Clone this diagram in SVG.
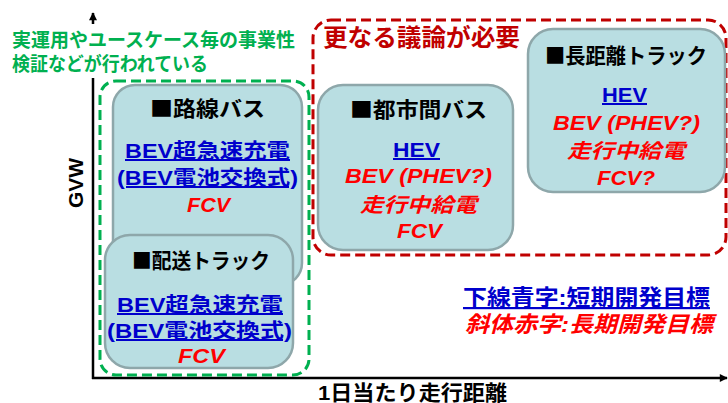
<svg xmlns="http://www.w3.org/2000/svg" width="728" height="403" viewBox="0 0 728 403">
<style>
text{font-family:"Liberation Sans","Noto Sans CJK JP",sans-serif;font-weight:bold;}
.sq{font-family:"Noto Sans CJK JP",sans-serif;}
.box{fill:#B9DEE2;stroke:#8EA7AA;stroke-width:2.5;}
.ttl{font-size:21px;fill:#000;}
.blu{font-size:20px;fill:#0000CC;text-decoration:underline;}
.red{font-size:20px;fill:#FF0000;font-style:italic;}
.axis{stroke:#000;stroke-width:2.5;fill:none;}
</style>
<defs>
<marker id="ah" viewBox="0 0 10 10" refX="9" refY="5" markerWidth="10" markerHeight="8" markerUnits="userSpaceOnUse" orient="auto">
<path d="M0,0 L10,5 L0,10 z" fill="#000"/>
</marker>
</defs>
<g id="connectors">
<line class="axis" x1="93" y1="379" x2="93" y2="13" marker-end="url(#ah)"/>
<line class="axis" x1="92" y1="378" x2="727" y2="378" marker-end="url(#ah)"/>
</g>
<g id="axis-labels">
<text x="83" y="183" font-size="21" text-anchor="middle" transform="rotate(-90 83 183)">GVW</text>
<text x="318" y="400" font-size="21" textLength="189" lengthAdjust="spacingAndGlyphs">1日当たり走行距離</text>
</g>
<g id="green-group">
<rect x="5" y="24" width="300" height="54" fill="#fff"/>
<text x="12" y="47" font-size="19" fill="#00B050" textLength="283" lengthAdjust="spacingAndGlyphs">実運用やユースケース毎の事業性</text>
<text x="12" y="71" font-size="19" fill="#00B050" textLength="196" lengthAdjust="spacingAndGlyphs">検証などが行われている</text>
<rect x="100" y="81" width="209" height="294" rx="16" fill="none" stroke="#00B050" stroke-width="3" stroke-dasharray="10 5"/>
</g>
<g id="red-group">
<rect x="313" y="20" width="413" height="235" rx="18" fill="none" stroke="#C00000" stroke-width="3" stroke-dasharray="10 5"/>
<text x="323" y="46" font-size="24" fill="#C00000" textLength="197" lengthAdjust="spacingAndGlyphs">更なる議論が必要</text>
</g>
<g id="route-bus">
<rect class="box" x="113" y="85" width="189" height="200" rx="22"/>
<text class="ttl" x="150" y="116" textLength="115" lengthAdjust="spacingAndGlyphs"><tspan class="sq">■</tspan>路線バス</text>
<text class="blu" x="125" y="158" textLength="165" lengthAdjust="spacingAndGlyphs">BEV超急速充電</text>
<text class="blu" x="117" y="185" textLength="181" lengthAdjust="spacingAndGlyphs">(BEV電池交換式)</text>
<text class="red" x="187" y="212" textLength="43" lengthAdjust="spacingAndGlyphs">FCV</text>
</g>
<g id="delivery-truck">
<rect class="box" x="105" y="235" width="188" height="133" rx="25"/>
<text class="ttl" x="132" y="268" textLength="138" lengthAdjust="spacingAndGlyphs"><tspan class="sq">■</tspan>配送トラック</text>
<text class="blu" x="117" y="312" textLength="166" lengthAdjust="spacingAndGlyphs">BEV超急速充電</text>
<text class="blu" x="107" y="338" textLength="185" lengthAdjust="spacingAndGlyphs">(BEV電池交換式)</text>
<text class="red" x="178" y="363" textLength="47" lengthAdjust="spacingAndGlyphs">FCV</text>
</g>
<g id="intercity-bus">
<rect class="box" x="318" y="85" width="195" height="165" rx="25"/>
<text class="ttl" x="350" y="117" textLength="137" lengthAdjust="spacingAndGlyphs"><tspan class="sq">■</tspan>都市間バス</text>
<text class="blu" x="393" y="157" textLength="47" lengthAdjust="spacingAndGlyphs">HEV</text>
<text class="red" x="345" y="183" textLength="147" lengthAdjust="spacingAndGlyphs">BEV (PHEV?)</text>
<text class="red" x="360" y="212" textLength="117" lengthAdjust="spacingAndGlyphs">走行中給電</text>
<text class="red" x="397" y="238" textLength="45" lengthAdjust="spacingAndGlyphs">FCV</text>
</g>
<g id="long-haul-truck">
<rect class="box" x="528" y="29" width="197" height="163" rx="25"/>
<text class="ttl" x="545" y="63" textLength="162" lengthAdjust="spacingAndGlyphs"><tspan class="sq">■</tspan>長距離トラック</text>
<text class="blu" x="602" y="102" textLength="45" lengthAdjust="spacingAndGlyphs">HEV</text>
<text class="red" x="553" y="130" textLength="147" lengthAdjust="spacingAndGlyphs">BEV (PHEV?)</text>
<text class="red" x="567" y="158" textLength="118" lengthAdjust="spacingAndGlyphs">走行中給電</text>
<text class="red" x="597" y="185" textLength="58" lengthAdjust="spacingAndGlyphs">FCV?</text>
</g>
<g id="legend">
<text x="463" y="305" font-size="22" fill="#0000CC" text-decoration="underline" textLength="247" lengthAdjust="spacingAndGlyphs">下線青字:短期開発目標</text>
<text x="465" y="332" font-size="22" fill="#FF0000" font-style="italic" textLength="248" lengthAdjust="spacingAndGlyphs">斜体赤字:長期開発目標</text>
</g>
</svg>
